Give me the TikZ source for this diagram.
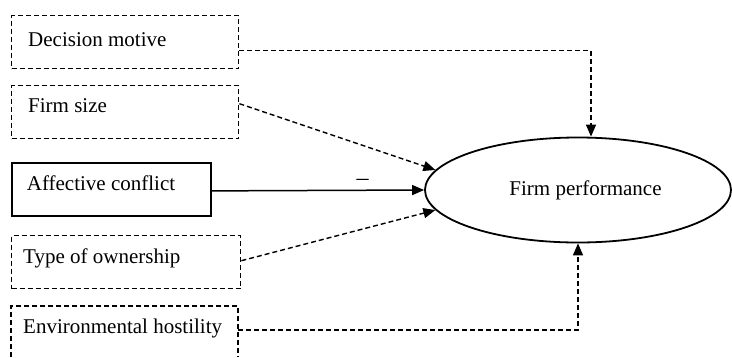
\documentclass[tikz,border=0pt]{standalone}
\usepackage{fontspec}
\setmainfont{Liberation Serif}
\usetikzlibrary{arrows.meta,shapes.geometric}
\begin{document}
\begin{tikzpicture}[x=1pt,y=-1pt,
  dbox/.style={draw,line width=1.4pt,dash pattern=on 5pt off 3pt,rectangle,inner sep=0pt,anchor=north west},
  sbox/.style={draw,line width=1.8pt,rectangle,inner sep=0pt,anchor=north west},
  txt/.style={inner sep=0pt,anchor=base west,font=\fontsize{21}{25}\selectfont},
  darrow/.style={line width=1.4pt,dash pattern=on 5pt off 3pt,-{Triangle[length=12pt,width=10pt]}},
  sarrow/.style={line width=1.5pt,-{Triangle[length=12pt,width=10pt]}}]
\useasboundingbox (0,0) rectangle (732,357);
% boxes
\node[dbox,minimum width=227pt,minimum height=53pt] (dm) at (11,15) {};
\node[txt] (dmt) at (28,46.7) {Decision motive};
\node[dbox,minimum width=227pt,minimum height=53pt] (fs) at (11,85) {};
\node[txt] (fst) at (28,112.7) {Firm size};
\node[sbox,minimum width=199pt,minimum height=53pt] (ac) at (11,162) {};
\node[txt] (act) at (26.7,190.7) {Affective conflict};
\node[dbox,minimum width=229pt,minimum height=53pt] (to) at (11,235) {};
\node[txt] (tot) at (23,263.3) {Type of ownership};
\draw[line width=1.4pt,dash pattern=on 5pt off 3pt] (11,357) |- (238,306) -- (238,357);
\coordinate (eh) at (238,330);
\node[txt] (eht) at (23,333.3) {Environmental hostility};
% ellipse
\node[draw,line width=1.8pt,ellipse,minimum width=306pt,minimum height=105pt,inner sep=0pt] (fp) at (578,190) {};
\node[txt,anchor=base] (fpt) at (585.5,195) {Firm performance};
% connectors
\draw[darrow] ([yshift=-8.5pt]dm.east) -| ([xshift=13pt]fp.north);
\draw[darrow] ([yshift=8.5pt]fs.east) -- (fp.172.8);
\draw[sarrow] ([yshift=-1.5pt]ac.east) -- node[pos=0.71,above=4pt,inner sep=0pt,font=\fontsize{24}{25}\selectfont] (neg) {\textendash} (fp.west);
\draw[darrow] ([yshift=1.5pt]to.east) -- (fp.188.5);
\draw[darrow] (eh) -| (fp.south);
\end{tikzpicture}
\end{document}
